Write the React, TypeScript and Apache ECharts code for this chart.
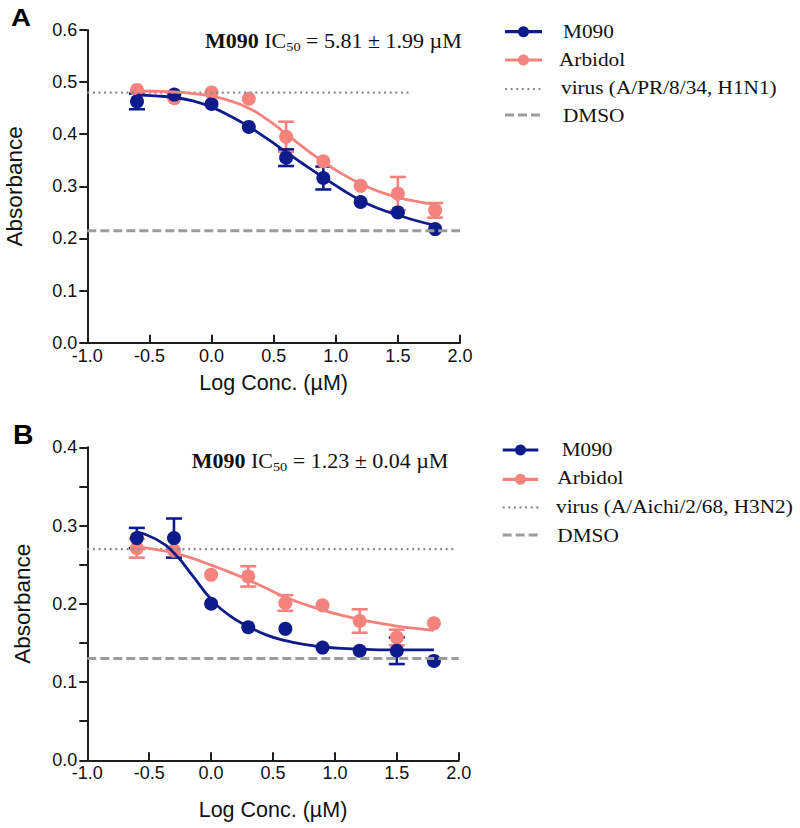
import React, { useEffect, useRef } from "react";
import * as echarts from "echarts";

// ---------- data ----------
const logConc = [-0.6, -0.3, 0, 0.3, 0.6, 0.9, 1.2, 1.5, 1.8];

// Panel A (H1N1)
const m090A = [0.463, 0.476, 0.458, 0.414, 0.355, 0.316, 0.27, 0.25, 0.218];
const m090AErr = [0.015, 0, 0, 0, 0.016, 0.022, 0, 0, 0];
const arbidolA = [0.485, 0.469, 0.48, 0.468, 0.395, 0.348, 0.301, 0.286, 0.254];
const arbidolAErr = [0, 0, 0, 0, 0.029, 0, 0, 0.032, 0.014];

// Panel B (H3N2)
const m090B = [0.284, 0.284, 0.2, 0.17, 0.168, 0.144, 0.14, 0.14, 0.127];
const m090BErr = [0.013, 0.025, 0, 0, 0, 0, 0, 0.017, 0];
const arbidolB = [0.271, 0.268, 0.237, 0.235, 0.201, 0.198, 0.178, 0.157, 0.175];
const arbidolBErr = [0.012, 0, 0, 0.013, 0.01, 0, 0.015, 0.01, 0];

// fitted curves
const curveX = [-0.6, -0.45, -0.3, -0.15, 0, 0.15, 0.3, 0.45, 0.6, 0.75, 0.9, 1.05, 1.2, 1.35, 1.5, 1.65, 1.8];
const m090FitA = [0.475, 0.4735, 0.4705, 0.464, 0.452, 0.435, 0.4146, 0.391, 0.366, 0.341, 0.317, 0.294, 0.273, 0.257, 0.245, 0.234, 0.225];
const arbidolFitA = [0.483, 0.4825, 0.481, 0.478, 0.473, 0.464, 0.45, 0.428, 0.401, 0.373, 0.347, 0.324, 0.305, 0.29, 0.279, 0.271, 0.265];
const m090FitB = [0.292, 0.283, 0.265, 0.236, 0.206, 0.185, 0.171, 0.16, 0.153, 0.148, 0.145, 0.143, 0.142, 0.1412, 0.141, 0.141, 0.141];
const arbidolFitB = [0.273, 0.2695, 0.265, 0.258, 0.2495, 0.2405, 0.2305, 0.2195, 0.2085, 0.1995, 0.192, 0.1855, 0.18, 0.1755, 0.1715, 0.1685, 0.166];

// reference levels: [level, xStart, xEnd]
const virusA = [0.48, -1, 1.6];
const dmsoA = [0.215, -1, 2.0];
const virusB = [0.27, -1, 1.97];
const dmsoB = [0.13, -1, 2.0];

// axes
const xTicks = [-1, -0.5, 0, 0.5, 1, 1.5, 2];
const yTicksA = [0, 0.1, 0.2, 0.3, 0.4, 0.5, 0.6];
const yTicksB = [0, 0.1, 0.2, 0.3, 0.4];

// texts
const legendA = ["M090", "Arbidol", "virus (A/PR/8/34, H1N1)", "DMSO"];
const legendB = ["M090", "Arbidol", "virus (A/Aichi/2/68, H3N2)", "DMSO"];
const annotA = ["M090", "5.81 ± 1.99 µM"];
const annotB = ["M090", "1.23 ± 0.04 µM"];

// ---------- styles ----------
const NAVY = "#0e1c8b";
const PINK = "#f5837d";
const DOT_GRAY = "#8a8a8a";
const DASH_GRAY = "#9c9c9c";
const AXIS = "#1e1e1e";
const SANS = '"Liberation Sans", Arial, sans-serif';
const SERIF = '"Liberation Serif", "Times New Roman", serif';

const zip = (xs: number[], ys: number[]) => xs.map((x, i) => [x, ys[i]]);
const zip3 = (xs: number[], ys: number[], es: number[]) => xs.map((x, i) => [x, ys[i], es[i]]);

const errRender = (color: string) => (params: any, api: any) => {
  const x = api.value(0);
  const y = api.value(1);
  const e = api.value(2);
  if (!e) return { type: "group", children: [] };
  const top = api.coord([x, y + e]);
  const bot = api.coord([x, y - e]);
  const hw = 8;
  const style = { stroke: color, lineWidth: 2.6 };
  return {
    type: "group",
    children: [
      { type: "line", shape: { x1: top[0], y1: top[1], x2: bot[0], y2: bot[1] }, style },
      { type: "line", shape: { x1: top[0] - hw, y1: top[1], x2: top[0] + hw, y2: top[1] }, style },
      { type: "line", shape: { x1: bot[0] - hw, y1: bot[1], x2: bot[0] + hw, y2: bot[1] }, style },
    ],
  };
};

function panelSeries(
  idx: number,
  m090: number[], m090Err: number[],
  arb: number[], arbErr: number[],
  fitM: number[], fitA: number[],
  virus: number[], dmso: number[]
) {
  const ax = { xAxisIndex: idx, yAxisIndex: idx };
  return [
    {
      ...ax, type: "line", name: "virus", symbol: "none", silent: true,
      data: [[virus[1], virus[0]], [virus[2], virus[0]]],
      lineStyle: { color: DOT_GRAY, width: 2.2, type: [2, 3.6] },
    },
    {
      ...ax, type: "line", name: "DMSO", symbol: "none", silent: true,
      data: [[dmso[1], dmso[0]], [dmso[2], dmso[0]]],
      lineStyle: { color: DASH_GRAY, width: 3, type: [9, 4] },
    },
    {
      ...ax, type: "line", name: "Arbidol fit", symbol: "none", smooth: true,
      data: zip(curveX, fitA), lineStyle: { color: PINK, width: 2.8 },
    },
    {
      ...ax, type: "custom", name: "Arbidol err", renderItem: errRender(PINK),
      encode: { x: 0, y: 1 }, data: zip3(logConc, arb, arbErr),
    },
    {
      ...ax, type: "scatter", name: "Arbidol", symbol: "circle", symbolSize: 14,
      itemStyle: { color: PINK, opacity: 1 }, data: zip(logConc, arb),
    },
    {
      ...ax, type: "line", name: "M090 fit", symbol: "none", smooth: true,
      data: zip(curveX, fitM), lineStyle: { color: NAVY, width: 2.8 },
    },
    {
      ...ax, type: "custom", name: "M090 err", renderItem: errRender(NAVY),
      encode: { x: 0, y: 1 }, data: zip3(logConc, m090, m090Err),
    },
    {
      ...ax, type: "scatter", name: "M090", symbol: "circle", symbolSize: 14,
      itemStyle: { color: NAVY, opacity: 1 }, data: zip(logConc, m090),
    },
  ];
}

function legendGraphic(labels: string[], lineX: number[], textX: number[], rowY: number[], textY: number[]) {
  const els: any[] = [];
  const [x1, x2] = lineX;
  const cx = (x1 + x2) / 2;
  const colors = [NAVY, PINK];
  labels.forEach((lab, i) => {
    const y = rowY[i];
    if (i < 2) {
      els.push({ type: "line", shape: { x1, y1: y, x2, y2: y }, style: { stroke: colors[i], lineWidth: 3.2 } });
      els.push({ type: "circle", shape: { cx, cy: y, r: 5.5 }, style: { fill: colors[i] } });
    } else if (i === 2) {
      els.push({ type: "line", shape: { x1, y1: y, x2, y2: y }, style: { stroke: DOT_GRAY, lineWidth: 2.2, lineDash: [2, 3.6] } });
    } else {
      els.push({ type: "line", shape: { x1, y1: y, x2, y2: y }, style: { stroke: DASH_GRAY, lineWidth: 3.2, lineDash: [9, 4] } });
    }
    els.push({
      type: "text", x: textX[i], y: textY[i], scaleX: 1.12,
      style: { text: lab, fontFamily: SERIF, fontSize: 19, fill: "#111", align: "left", verticalAlign: "middle" },
    });
  });
  return els;
}

function annotation(a: string[], x: number, y: number) {
  return {
    type: "text", x, y, scaleX: 1.1,
    style: {
      text: `{b|${a[0]}} IC{s|50} = ${a[1]}`,
      fontFamily: SERIF, fontSize: 20, lineHeight: 24, fill: "#111",
      align: "left", verticalAlign: "middle",
      rich: {
        b: { fontFamily: SERIF, fontSize: 20, fontWeight: "bold", lineHeight: 24, fill: "#111" },
        s: { fontFamily: SERIF, fontSize: 13, lineHeight: 13, verticalAlign: "bottom", fill: "#111" },
      },
    },
  };
}

const fmt = (v: number) => v.toFixed(1);

function xAxisFor(i: number, gap: number) {
  return {
    type: "value", gridIndex: i,
    min: xTicks[0], max: xTicks[xTicks.length - 1], interval: xTicks[1] - xTicks[0],
    axisLine: { show: true, onZero: false, lineStyle: { color: AXIS, width: 2 } },
    axisTick: { show: true, inside: true, length: 8, lineStyle: { color: AXIS, width: 2 } },
    splitLine: { show: false },
    axisLabel: { formatter: fmt, margin: 4, color: "#111", fontFamily: SANS, fontSize: 18 },
    name: "Log Conc. (µM)", nameLocation: "middle", nameGap: gap,
    nameTextStyle: { fontFamily: SANS, fontSize: 21.5, color: "#111" },
  };
}

function yAxisFor(i: number, ticks: number[], gap: number, minor: boolean) {
  return {
    type: "value", gridIndex: i,
    min: ticks[0], max: ticks[ticks.length - 1], interval: ticks[1] - ticks[0],
    axisLine: { show: true, onZero: false, lineStyle: { color: AXIS, width: 2 } },
    axisTick: { show: true, inside: false, length: 8, lineStyle: { color: AXIS, width: 2 } },
    minorTick: { show: minor, splitNumber: 2, length: 8, lineStyle: { color: AXIS, width: 2 } },
    splitLine: { show: false },
    minorSplitLine: { show: false },
    axisLabel: { formatter: fmt, margin: 10, color: "#111", fontFamily: SANS, fontSize: 18 },
    name: "Absorbance", nameLocation: "middle", nameGap: gap, nameRotate: 90,
    nameTextStyle: { fontFamily: SANS, fontSize: 22.5, color: "#111" },
  };
}

const option: any = {
  animation: false,
  backgroundColor: "#fff",
  grid: [
    { left: 87.3, top: 30, width: 372.7, height: 312.7 },
    { left: 87.3, top: 447.3, width: 371.4, height: 313 },
  ],
  xAxis: [xAxisFor(0, 29.5), xAxisFor(1, 38.5)],
  yAxis: [yAxisFor(0, yTicksA, 61, false), yAxisFor(1, yTicksB, 53, true)],
  series: [
    ...panelSeries(0, m090A, m090AErr, arbidolA, arbidolAErr, m090FitA, arbidolFitA, virusA, dmsoA),
    ...panelSeries(1, m090B, m090BErr, arbidolB, arbidolBErr, m090FitB, arbidolFitB, virusB, dmsoB),
  ],
  graphic: [
    {
      type: "text", x: 11, y: 17.5, scaleX: 1.2,
      style: { text: "A", fontFamily: SANS, fontSize: 23, fontWeight: "bold", fill: "#000", align: "left", verticalAlign: "middle" },
    },
    {
      type: "text", x: 13, y: 434.7, scaleX: 1.05,
      style: { text: "B", fontFamily: SANS, fontSize: 27, fontWeight: "bold", fill: "#000", align: "left", verticalAlign: "middle" },
    },
    annotation(annotA, 205, 41.7),
    annotation(annotB, 191.7, 461.7),
    ...legendGraphic(legendA, [505, 542], [563, 559, 561, 563], [31.7, 60, 89, 115], [31.5, 59, 87.5, 115]),
    ...legendGraphic(legendB, [502.7, 538.3], [561.7, 557.3, 556, 557.3], [450, 479.3, 507.3, 535], [449.3, 477.5, 506.7, 535]),
  ],
};

export default function App() {
  const ref = useRef<HTMLDivElement>(null);
  useEffect(() => {
    const chart = echarts.init(ref.current as HTMLDivElement, null, { renderer: "svg" });
    chart.setOption(option);
    return () => chart.dispose();
  }, []);
  return (
    <div
      ref={ref}
      style={{ position: "fixed", left: 0, top: 0, width: 800, height: 828, background: "#fff" }}
    />
  );
}
